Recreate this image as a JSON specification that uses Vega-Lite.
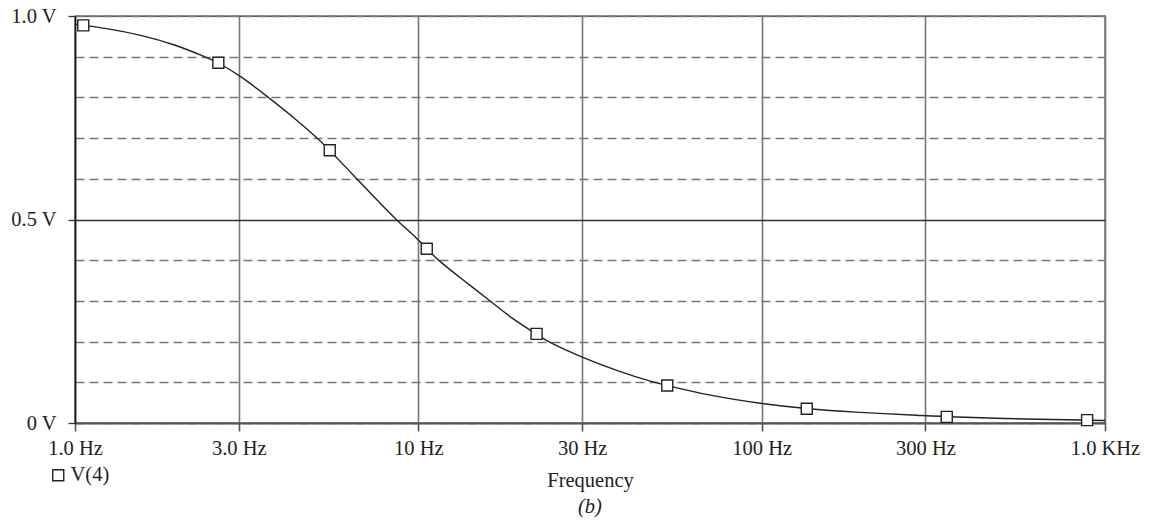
{
  "$schema": "https://vega.github.io/schema/vega-lite/v6.json",
  "width": 1030,
  "height": 407,
  "autosize": {"type": "none"},
  "padding": {"left": 75, "top": 16, "right": 44, "bottom": 100},
  "background": "white",
  "config": {
    "font": "Liberation Serif",
    "view": {"stroke": "#222", "strokeWidth": 1.3}
  },
  "title": {
    "text": "(b)",
    "orient": "bottom",
    "anchor": "middle",
    "fontStyle": "italic",
    "font": "Liberation Serif",
    "fontSize": 20.5,
    "fontWeight": "normal",
    "color": "#222",
    "offset": 6
  },
  "datasets": {
    "curve": [
      {"f": 1.0, "v": 0.980},
      {"f": 1.057, "v": 0.977},
      {"f": 1.25, "v": 0.969},
      {"f": 1.564, "v": 0.953},
      {"f": 1.955, "v": 0.930},
      {"f": 2.39, "v": 0.900},
      {"f": 2.615, "v": 0.885},
      {"f": 3.0, "v": 0.856},
      {"f": 3.66, "v": 0.800},
      {"f": 4.32, "v": 0.752},
      {"f": 5.08, "v": 0.700},
      {"f": 5.52, "v": 0.670},
      {"f": 6.62, "v": 0.600},
      {"f": 7.6, "v": 0.547},
      {"f": 8.6, "v": 0.500},
      {"f": 10.0, "v": 0.451},
      {"f": 10.58, "v": 0.428},
      {"f": 11.4, "v": 0.400},
      {"f": 13.52, "v": 0.351},
      {"f": 16.18, "v": 0.300},
      {"f": 18.9, "v": 0.254},
      {"f": 22.1, "v": 0.219},
      {"f": 23.7, "v": 0.200},
      {"f": 30.0, "v": 0.161},
      {"f": 38.0, "v": 0.128},
      {"f": 48.3, "v": 0.100},
      {"f": 53.1, "v": 0.092},
      {"f": 70.0, "v": 0.068},
      {"f": 100.0, "v": 0.047},
      {"f": 135.3, "v": 0.035},
      {"f": 180.9, "v": 0.027},
      {"f": 300.0, "v": 0.018},
      {"f": 346.0, "v": 0.015},
      {"f": 600.0, "v": 0.0095},
      {"f": 887.0, "v": 0.007},
      {"f": 1000.0, "v": 0.006}
    ],
    "markers": [
      {"f": 1.057, "v": 0.977, "series": "V(4)"},
      {"f": 2.615, "v": 0.885, "series": "V(4)"},
      {"f": 5.52, "v": 0.670, "series": "V(4)"},
      {"f": 10.58, "v": 0.428, "series": "V(4)"},
      {"f": 22.1, "v": 0.219, "series": "V(4)"},
      {"f": 53.1, "v": 0.092, "series": "V(4)"},
      {"f": 135.3, "v": 0.035, "series": "V(4)"},
      {"f": 346.0, "v": 0.015, "series": "V(4)"},
      {"f": 887.0, "v": 0.007, "series": "V(4)"}
    ]
  },
  "encoding": {
    "x": {
      "field": "f",
      "type": "quantitative",
      "scale": {"type": "log", "domain": [1, 1000], "nice": false},
      "axis": {
        "values": [1, 3, 10, 30, 100, 300, 1000],
        "labelExpr": "datum.value == 1 ? '1.0 Hz' : datum.value == 3 ? '3.0 Hz' : datum.value == 1000 ? '1.0 KHz' : datum.value + ' Hz'",
        "grid": true,
        "gridColor": "#777",
        "gridWidth": 1.6,
        "domainColor": "#555",
        "domainWidth": 2.2,
        "tickColor": "#555",
        "tickWidth": 1.6,
        "tickSize": 8,
        "labelPadding": 7,
        "labelFont": "Liberation Serif",
        "labelFontSize": 20.5,
        "labelColor": "#222",
        "labelFlush": false,
        "labelOverlap": false,
        "title": "Frequency",
        "titleFont": "Liberation Serif",
        "titleFontSize": 20.5,
        "titleFontWeight": "normal",
        "titleColor": "#222",
        "titlePadding": 12
      }
    },
    "y": {
      "field": "v",
      "type": "quantitative",
      "scale": {"domain": [0, 1], "nice": false, "zero": true},
      "axis": {
        "values": [0, 0.1, 0.2, 0.3, 0.4, 0.5, 0.6, 0.7, 0.8, 0.9, 1],
        "labelExpr": "datum.value == 0 ? '0 V' : datum.value == 0.5 ? '0.5 V' : datum.value == 1 ? '1.0 V' : ''",
        "grid": true,
        "gridDash": {"condition": {"test": "datum.value == 0.5", "value": []}, "value": [9, 5]},
        "gridColor": {"condition": {"test": "datum.value == 0.5", "value": "#333"}, "value": "#777"},
        "gridWidth": 1.3,
        "tickOpacity": {"condition": {"test": "datum.value == 0 || datum.value == 0.5 || datum.value == 1", "value": 1}, "value": 0},
        "tickSize": 7,
        "tickColor": "#333",
        "tickWidth": 1.3,
        "domainColor": "#111",
        "domainWidth": 1.5,
        "labelPadding": 12,
        "labelFont": "Liberation Serif",
        "labelFontSize": 20.5,
        "labelColor": "#222",
        "labelOverlap": false,
        "labelFlush": false,
        "title": null
      }
    }
  },
  "layer": [
    {
      "data": {"name": "curve"},
      "mark": {"type": "line", "color": "#222", "strokeWidth": 1.4, "interpolate": "basis"}
    },
    {
      "data": {"name": "markers"},
      "mark": {"type": "point", "shape": "square", "filled": false, "fill": "white", "fillOpacity": 1, "strokeWidth": 1.4, "size": 121, "opacity": 1},
      "encoding": {
        "stroke": {
          "field": "series",
          "type": "nominal",
          "scale": {"range": ["#222"]},
          "legend": {
            "orient": "none",
            "legendX": -27,
            "legendY": 449,
            "title": null,
            "padding": 0,
            "symbolType": "square",
            "symbolSize": 121,
            "symbolFillColor": "white",
            "symbolStrokeWidth": 1.4,
            "labelFont": "Liberation Serif",
            "labelFontSize": 20.5,
            "labelColor": "#222",
            "labelOffset": 2
          }
        }
      }
    }
  ]
}
